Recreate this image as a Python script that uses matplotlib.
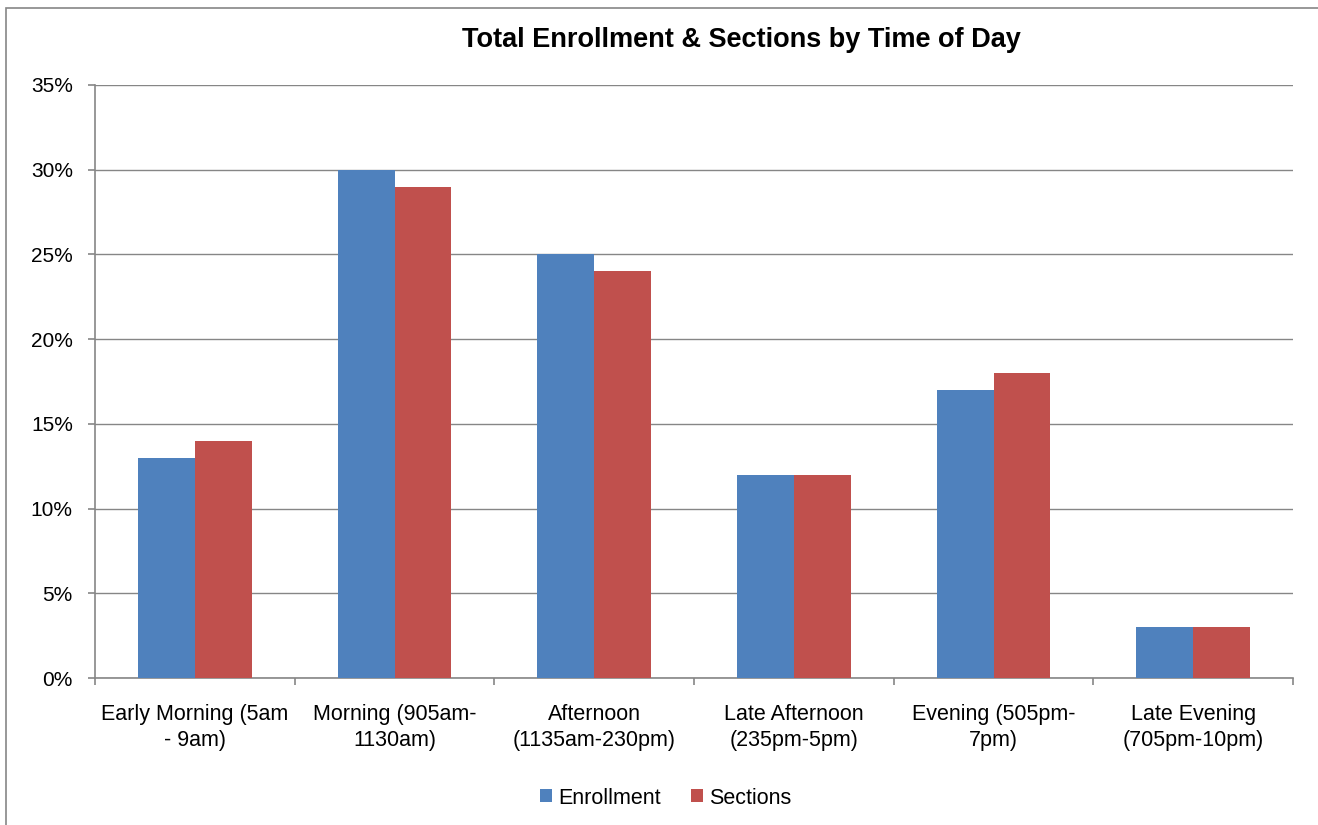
import matplotlib
matplotlib.use("Agg")
import matplotlib.pyplot as plt
import numpy as np
from matplotlib.patches import Rectangle
from matplotlib.ticker import FuncFormatter

plt.rcParams['font.family'] = ['Liberation Sans', 'DejaVu Sans']

categories = [
    "Early Morning (5am\n- 9am)",
    "Morning (905am-\n1130am)",
    "Afternoon\n(1135am-230pm)",
    "Late Afternoon\n(235pm-5pm)",
    "Evening (505pm-\n7pm)",
    "Late Evening\n(705pm-10pm)",
]
enrollment = [13, 30, 25, 12, 17, 3]
sections = [14, 29, 24, 12, 18, 3]
title = "Total Enrollment & Sections by Time of Day"

BLUE = "#4F81BD"
RED = "#C0504D"
GRID = "#868686"

fig = plt.figure(figsize=(13.18, 8.25), dpi=100)
# chart-area frame (left and top edges visible)
fig.patches.append(Rectangle((6 / 1318, -0.1), 1.2, 1 - 8 / 825 + 0.1,
                             transform=fig.transFigure, fill=False,
                             edgecolor=GRID, linewidth=1.2))

ax = fig.add_axes([95 / 1318, 1 - 678 / 825, (1293 - 95) / 1318, (678 - 85) / 825])

x = np.arange(len(categories))
w = 0.285
ax.bar(x - w / 2, enrollment, width=w, color=BLUE, label="Enrollment", zorder=3)
ax.bar(x + w / 2, sections, width=w, color=RED, label="Sections", zorder=3)

ax.set_xlim(-0.5, len(categories) - 0.5)
ax.set_ylim(0, 35)
ax.set_yticks(np.arange(0, 36, 5))
ax.yaxis.set_major_formatter(FuncFormatter(lambda v, p: f"{int(v)}%"))
ax.grid(axis='y', color=GRID, linewidth=1.0, zorder=0)

ax.set_xticks(x)
ax.set_xticklabels(categories, fontsize=15.5, linespacing=1.3)
ax.set_xticks(np.arange(-0.5, len(categories), 1), minor=True)
ax.tick_params(axis='x', which='major', length=0, pad=19)
ax.tick_params(axis='x', which='minor', length=5, color=GRID, width=1.2)
ax.tick_params(axis='y', length=5, color=GRID, width=1.2, labelsize=15, pad=11)

for side in ('top', 'right'):
    ax.spines[side].set_visible(False)
for side in ('left', 'bottom'):
    ax.spines[side].set_color(GRID)
    ax.spines[side].set_linewidth(1.2)

fig.text(741 / 1318, 1 - 40 / 825, title, ha='center', va='center',
         fontsize=19.5, fontweight='bold')

fig.legend(loc='center', bbox_to_anchor=(666 / 1318, 1 - 798 / 825), ncol=2, frameon=False,
           fontsize=15.5, handlelength=0.55, handleheight=0.55, handletextpad=0.3,
           columnspacing=1.4)

fig.savefig("out.png", dpi=100)
